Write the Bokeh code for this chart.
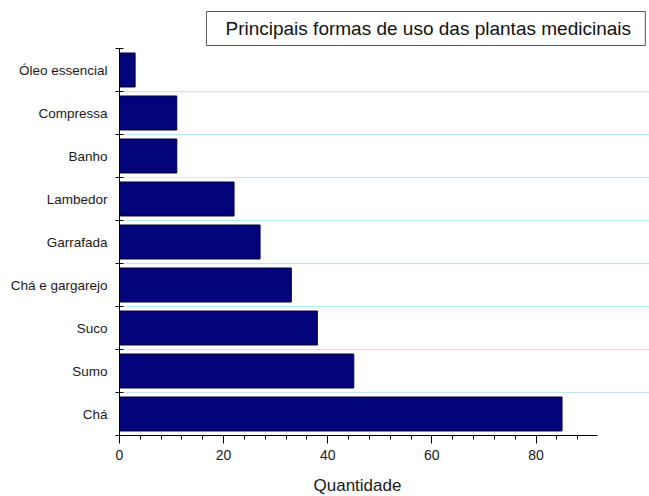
from bokeh.plotting import figure
from bokeh.models import Range1d, FixedTicker, Label, BoxAnnotation, Title
from bokeh.embed import file_html
from bokeh.resources import INLINE

categories = ["Óleo essencial", "Compressa", "Banho", "Lambedor", "Garrafada",
              "Chá e gargarejo", "Suco", "Sumo", "Chá"]
values = [3, 11, 11, 22, 27, 33, 38, 45, 85]
x_ticks = [0, 20, 40, 60, 80]
title_text = "Principais formas de uso das plantas medicinais"
x_label = "Quantidade"

n = len(categories)
centers = [i + 0.5 for i in range(n)]
bounds = list(range(n + 1))
X_MAX = 91.8

FONT = "Liberation Sans"

# frame extended to the top and right edges so the title box can be drawn inside it;
# axes and grid are bounded to the real data area
p = figure(width=649, height=496, output_backend="svg", toolbar_location=None,
           x_range=Range1d(0, 101.8), y_range=Range1d(n, n - 435 / 43),
           min_border_left=119, min_border_right=0, min_border_top=0, min_border_bottom=61)
p.frame_width = 530
p.frame_height = 435
p.outline_line_color = None
p.background_fill_color = "white"
p.border_fill_color = "white"

p.hbar(y=centers, right=values, left=0, height=0.79,
       fill_color="#03037a", line_color="#000033", line_width=1)

# x axis
xa = p.xaxis[0]
xa.bounds = (0, X_MAX)
xa.ticker = FixedTicker(ticks=x_ticks, minor_ticks=[v for v in range(0, 92, 4) if v % 20 != 0])
xa.axis_line_color = "black"
xa.major_tick_line_color = "black"
xa.minor_tick_line_color = "black"
xa.major_tick_in = 0
xa.major_tick_out = 8
xa.minor_tick_in = 0
xa.minor_tick_out = 4
xa.major_label_text_font = FONT
xa.major_label_text_font_size = "14px"
xa.major_label_text_color = "#1a1a1a"
xa.major_label_standoff = 6

# x axis title, centred under the bounded axis
xt = Title(text=x_label, align="left", offset=194, standoff=23,
           text_font=FONT, text_font_size="17px", text_font_style="normal",
           text_color="#1a1a1a")
p.add_layout(xt, "below")

# y axis
ya = p.yaxis[0]
ya.bounds = (0, n)
ya.ticker = FixedTicker(ticks=centers, minor_ticks=bounds)
ya.major_label_overrides = {c: name for c, name in zip(centers, categories)}
ya.axis_line_color = "black"
ya.major_tick_line_color = None
ya.major_tick_in = 0
ya.major_tick_out = 0
ya.minor_tick_line_color = "black"
ya.minor_tick_in = 4
ya.minor_tick_out = 4
ya.major_label_text_font = FONT
ya.major_label_text_font_size = "13.5px"
ya.major_label_text_color = "#1a1a1a"
ya.major_label_standoff = 8

p.xgrid.grid_line_color = None
p.ygrid.ticker = FixedTicker(ticks=bounds[1:-1])
p.ygrid.bounds = (0, X_MAX)
p.ygrid.grid_line_color = "#bde8f4"
p.ygrid.grid_line_width = 1

# title box above the top row
box = BoxAnnotation(left=16.7, right=101.0, top=-0.86, bottom=-0.07,
                    fill_color="white", fill_alpha=1.0,
                    line_color="#555555", line_width=1, line_alpha=1.0)
p.add_layout(box)
title = Label(x=59.3, y=-0.47, text=title_text,
              text_align="center", text_baseline="middle",
              text_font=FONT, text_font_size="19px", text_color="#111111")
p.add_layout(title)

open("out.html", "w").write(file_html(p, INLINE))
